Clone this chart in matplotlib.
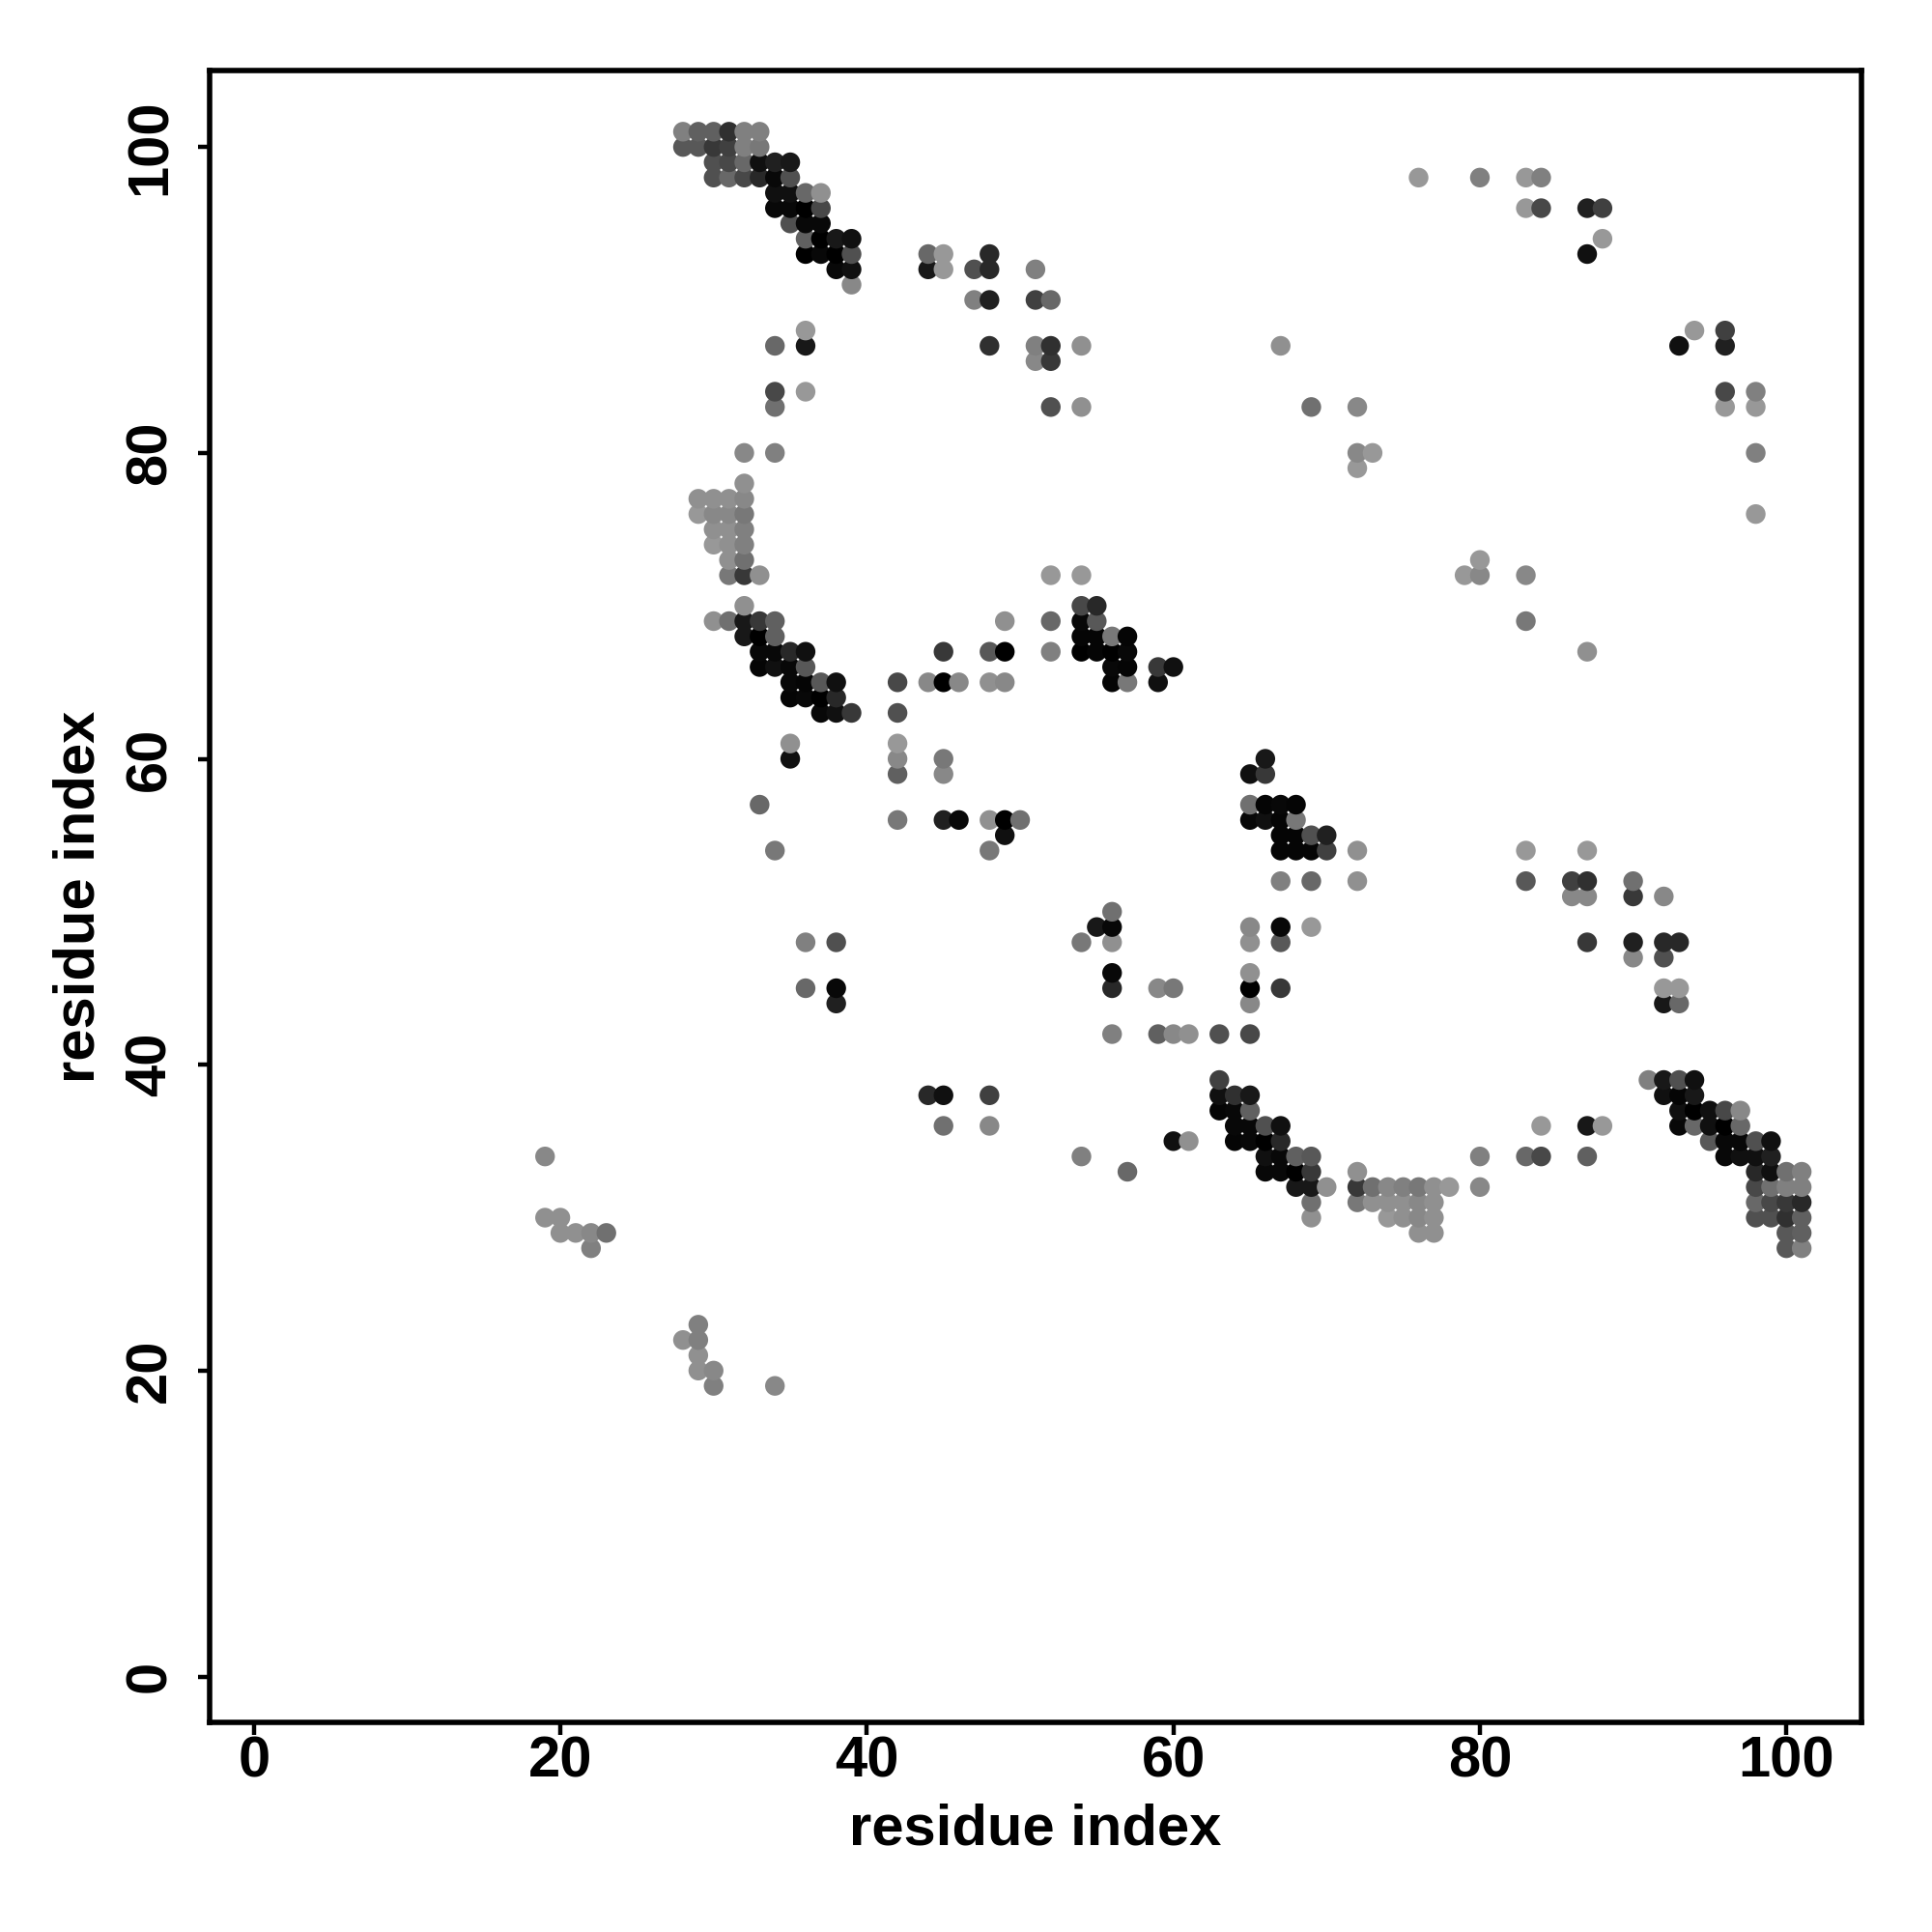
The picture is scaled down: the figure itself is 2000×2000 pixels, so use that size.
import numpy as np
from matplotlib import pyplot as plt

plt.rcParams['font.family'] = ['Liberation Sans', 'DejaVu Sans']
plt.rcParams['font.weight'] = 'bold'

# contact map, one line per residue row
row_y = [101, 100, 99, 98, 97, 96, 95, 94, 93, 92, 91, 90, 88, 87, 86, 84, 83, 80, 79, 78,
         77, 76, 75, 74, 73, 72, 70, 69, 68, 67, 66, 65, 64, 63, 61, 60, 59, 57, 56, 55,
         54, 52, 51, 50, 49, 48, 47, 46, 45, 44, 42, 39, 38, 37, 36, 35, 34, 33, 32, 31,
         30, 29, 28, 23, 22, 21, 20, 19]

row_x = [
    [28, 29, 30, 31, 32, 33],
    [28, 29, 30, 31, 32, 33],
    [30, 31, 32, 33, 34, 35],
    [30, 31, 32, 33, 34, 35, 76, 80, 83, 84],
    [34, 35, 36, 37],
    [34, 35, 36, 37, 83, 84, 87, 88],
    [35, 36, 37],
    [36, 37, 38, 39, 88],
    [36, 37, 38, 39, 44, 45, 48, 87],
    [38, 39, 44, 45, 47, 48, 51],
    [39],
    [47, 48, 51, 52],
    [36, 94, 96],
    [34, 36, 48, 51, 52, 54, 67, 93, 96],
    [51, 52],
    [34, 36, 96, 98],
    [34, 52, 54, 69, 72, 96, 98],
    [32, 34, 72, 73, 98],
    [72],
    [32],
    [29, 30, 31, 32],
    [29, 30, 31, 32, 98],
    [30, 31, 32],
    [30, 31, 32],
    [31, 32, 80],
    [31, 32, 33, 52, 54, 79, 80, 83],
    [32, 54, 55],
    [30, 31, 32, 33, 34, 49, 52, 54, 55, 83],
    [32, 33, 34, 54, 55, 56, 57],
    [33, 34, 35, 36, 45, 48, 49, 52, 54, 55, 56, 57, 87],
    [33, 34, 35, 36, 56, 57, 59, 60],
    [35, 36, 37, 38, 42, 44, 45, 46, 48, 49, 56, 57, 59],
    [35, 36, 37, 38],
    [37, 38, 39, 42],
    [35, 42],
    [35, 42, 45, 66],
    [42, 45, 65, 66],
    [33, 65, 66, 67, 68],
    [42, 45, 46, 48, 49, 50, 65, 66, 67, 68],
    [49, 67, 68, 69, 70],
    [34, 48, 67, 68, 69, 70, 72, 83, 87],
    [67, 69, 72, 83, 86, 87, 90],
    [86, 87, 90, 92],
    [56],
    [55, 56, 65, 67, 69],
    [36, 38, 54, 56, 65, 67, 87, 90, 92, 93],
    [90, 92],
    [56, 65],
    [36, 38, 56, 59, 60, 65, 67, 92, 93],
    [38, 65, 92, 93],
    [56, 59, 60, 61, 63, 65],
    [63, 91, 92, 93, 94],
    [44, 45, 48, 63, 64, 65, 92, 93, 94],
    [63, 64, 65, 93, 94, 95, 96, 97],
    [45, 48, 64, 65, 66, 67, 84, 87, 88, 93, 94, 95, 96, 97],
    [60, 61, 64, 65, 66, 67, 95, 96, 97, 98, 99],
    [19, 54, 66, 67, 68, 69, 80, 83, 84, 87, 96, 97, 98, 99],
    [57, 66, 67, 68, 69, 72, 98, 99, 100, 101],
    [68, 69, 70, 72, 73, 74, 75, 76, 77, 78, 80, 98, 99, 100, 101],
    [69, 72, 73, 74, 75, 76, 77, 98, 99, 100, 101],
    [19, 20, 69, 74, 75, 76, 77, 98, 99, 100, 101],
    [20, 21, 22, 23, 76, 77, 100, 101],
    [22, 100, 101],
    [29],
    [28, 29],
    [29],
    [29, 30],
    [30, 34],
]

# grey level of each point, 0x00 black
row_gray = [
    [0x80, 0x60, 0x60, 0x30, 0x80, 0x80],
    [0x58, 0x58, 0x38, 0x40, 0x80, 0x78],
    [0x50, 0x48, 0x68, 0x10, 0x20, 0x18],
    [0x50, 0x68, 0x48, 0x28, 0x08, 0x50, 0x98, 0x80, 0x98, 0x80],
    [0x10, 0x10, 0x68, 0x90],
    [0x08, 0x08, 0x00, 0x48, 0x98, 0x48, 0x20, 0x40],
    [0x50, 0x08, 0x08],
    [0x60, 0x00, 0x18, 0x10, 0x98],
    [0x00, 0x08, 0x00, 0x50, 0x68, 0x98, 0x28, 0x10],
    [0x08, 0x10, 0x18, 0x98, 0x50, 0x28, 0x80],
    [0x88],
    [0x80, 0x20, 0x40, 0x68],
    [0x98, 0x98, 0x40],
    [0x68, 0x18, 0x30, 0x80, 0x30, 0x90, 0x90, 0x10, 0x20],
    [0x88, 0x38],
    [0x48, 0x98, 0x48, 0x80],
    [0x70, 0x50, 0x90, 0x70, 0x88, 0x98, 0x98],
    [0x88, 0x80, 0x88, 0x98, 0x80],
    [0x98],
    [0x90],
    [0x90, 0x90, 0x90, 0x88],
    [0x98, 0x88, 0x88, 0x78, 0x98],
    [0x90, 0x90, 0x80],
    [0x98, 0x90, 0x80],
    [0x90, 0x70, 0x98],
    [0x78, 0x38, 0x90, 0x98, 0x98, 0x98, 0x88, 0x88],
    [0x90, 0x48, 0x28],
    [0x90, 0x70, 0x18, 0x38, 0x60, 0x90, 0x68, 0x08, 0x58, 0x78],
    [0x18, 0x00, 0x60, 0x05, 0x05, 0x78, 0x05],
    [0x08, 0x08, 0x28, 0x10, 0x38, 0x58, 0x00, 0x80, 0x00, 0x05, 0x00, 0x08, 0x90],
    [0x05, 0x10, 0x08, 0x58, 0x08, 0x05, 0x38, 0x10],
    [0x08, 0x05, 0x58, 0x10, 0x48, 0x88, 0x00, 0x88, 0x90, 0x88, 0x05, 0x78, 0x10],
    [0x05, 0x08, 0x00, 0x28],
    [0x08, 0x10, 0x38, 0x50],
    [0x90, 0x98],
    [0x10, 0x88, 0x78, 0x18],
    [0x60, 0x88, 0x10, 0x38],
    [0x68, 0x70, 0x05, 0x08, 0x05],
    [0x78, 0x20, 0x08, 0x90, 0x00, 0x70, 0x08, 0x10, 0x05, 0x78],
    [0x10, 0x05, 0x05, 0x50, 0x20],
    [0x78, 0x78, 0x05, 0x05, 0x05, 0x40, 0x90, 0x98, 0x98],
    [0x80, 0x68, 0x90, 0x58, 0x40, 0x30, 0x70],
    [0x88, 0x88, 0x38, 0x88],
    [0x70],
    [0x18, 0x08, 0x88, 0x08, 0x98],
    [0x80, 0x50, 0x78, 0x90, 0x90, 0x58, 0x38, 0x20, 0x28, 0x28],
    [0x88, 0x50],
    [0x08, 0x90],
    [0x68, 0x08, 0x28, 0x88, 0x78, 0x00, 0x38, 0x98, 0x98],
    [0x20, 0x88, 0x18, 0x68],
    [0x80, 0x60, 0x88, 0x90, 0x50, 0x48],
    [0x40, 0x80, 0x18, 0x50, 0x10],
    [0x28, 0x10, 0x40, 0x10, 0x30, 0x18, 0x10, 0x05, 0x18],
    [0x05, 0x08, 0x60, 0x10, 0x00, 0x10, 0x48, 0x88],
    [0x70, 0x88, 0x08, 0x08, 0x50, 0x10, 0x98, 0x18, 0x98, 0x08, 0x68, 0x10, 0x00, 0x68],
    [0x10, 0x90, 0x05, 0x08, 0x00, 0x28, 0x58, 0x08, 0x08, 0x50, 0x10],
    [0x88, 0x80, 0x10, 0x08, 0x60, 0x58, 0x80, 0x68, 0x48, 0x60, 0x08, 0x10, 0x10, 0x20],
    [0x68, 0x08, 0x08, 0x00, 0x38, 0x90, 0x28, 0x10, 0x70, 0x80],
    [0x18, 0x18, 0x90, 0x38, 0x70, 0x88, 0x80, 0x78, 0x90, 0x98, 0x88, 0x48, 0x70, 0x80, 0x80],
    [0x70, 0x78, 0x90, 0x90, 0x90, 0x88, 0x90, 0x68, 0x48, 0x38, 0x28],
    [0x90, 0x90, 0x90, 0x98, 0x90, 0x88, 0x90, 0x50, 0x50, 0x30, 0x60],
    [0x90, 0x90, 0x88, 0x70, 0x90, 0x90, 0x58, 0x60],
    [0x80, 0x58, 0x80],
    [0x80],
    [0x90, 0x80],
    [0x90],
    [0x90, 0x88],
    [0x80, 0x88],
]

tick_values = [0, 20, 40, 60, 80, 100]

xs, ys, cs = [], [], []
for y, row, grays in zip(row_y, row_x, row_gray, strict=True):
    for x, g in zip(row, grays, strict=True):
        xs.append(x)
        ys.append(y)
        cs.append((g / 255, g / 255, g / 255))

# later residues drawn on top
order = np.lexsort((ys, xs))
xs = np.array(xs)[order]
ys = np.array(ys)[order]
cs = np.array(cs)[order]

fig = plt.figure(figsize=(20, 20), dpi=100)
ax = fig.add_axes([0.1084, 0.1085, 0.8551, 0.855])
ax.scatter(xs, ys, s=215, c=cs, linewidths=0)

ax.set_xlim(-2.9, 104.9)
ax.set_ylim(-3, 105)
ax.set_xticks(tick_values)
ax.set_yticks(tick_values)
ax.tick_params(axis='both', length=9, width=3.2, labelsize=43)
ax.tick_params(axis='x', pad=1)
ax.tick_params(axis='y', pad=15)
plt.setp(ax.get_yticklabels(), rotation=90, va='center')
for side in ax.spines.values():
    side.set_linewidth(4)

ax.set_xlabel('residue index', fontsize=43, fontweight='bold')
ax.set_ylabel('residue index', fontsize=43, fontweight='bold')
ax.xaxis.set_label_coords(0.5, -0.049)
ax.yaxis.set_label_coords(-0.063, 0.5)

fig.savefig('out.png', dpi=100)
